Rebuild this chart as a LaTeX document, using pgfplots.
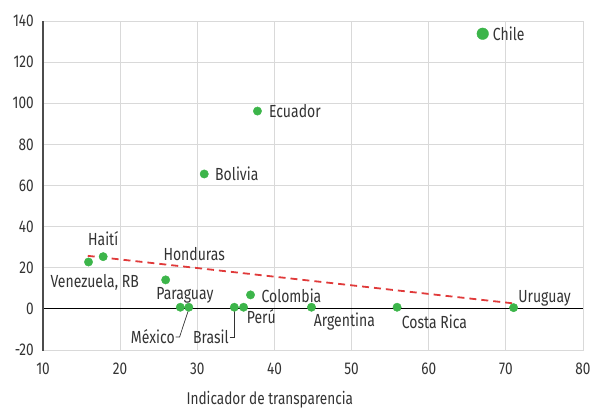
\documentclass[border=0pt]{standalone}
\usepackage{fontspec}
\setmainfont{Fira Sans}[FakeStretch=0.8]
\usepackage{pgfplots}
\pgfplotsset{compat=1.18}
\definecolor{dotgreen}{HTML}{3CB54A}
\definecolor{trendred}{HTML}{E03A3A}
\definecolor{gridgray}{HTML}{D9D9D9}
\definecolor{txt}{HTML}{333333}
\begin{document}
\begin{tikzpicture}
\begin{axis}[
  name=ax,
  scale only axis,
  width=540pt, height=329pt,
  xmin=10, xmax=80, ymin=-20, ymax=140,
  xtick={10,20,...,80}, ytick={-20,0,...,140},
  grid=major,
  major grid style={draw=gridgray, line width=0.8pt},
  axis line style={draw=gridgray, line width=0.8pt},
  major tick length=0pt,
  tick style={draw=none},
  /pgf/number format/assume math mode=true,
  ticklabel style={font=\fontsize{17}{20}\selectfont, text=txt, inner sep=0pt},
  yticklabel style={anchor=east, xshift=-9pt},
  xticklabel style={anchor=north, yshift=-13pt},
  xlabel={Indicador de transparencia},
  xlabel style={at={(axis description cs:0.42,-0.152)}, anchor=center, font=\fontsize{17}{20}\selectfont, text=txt, inner sep=0pt},
  clip=false,
  every node near coord/.style={},
]
% zero line
\addplot[black, line width=0.9pt, forget plot] coordinates {(10,0) (80,0)};
% trend line
\addplot[trendred, line width=1.8pt, dash pattern=on 7pt off 5pt] coordinates {(15.8,25.8) (70.9,2.7)};
% points
\addplot[only marks, mark=*, mark size=4.2pt, mark options={draw=dotgreen, fill=dotgreen}] coordinates {
  (37.8,96.2) (30.9,65.6) (17.8,25.4) (15.9,22.8) (25.9,14.1)
  (27.8,0.8) (28.9,0.8) (34.8,0.8) (36.0,0.8) (36.9,6.8)
  (44.8,0.8) (55.9,0.8) (71.0,0.6)
};
\addplot[only marks, mark=*, mark size=5.8pt, mark options={draw=dotgreen, fill=dotgreen}] coordinates {(67.0,133.8)};
% left axis line
\draw[draw=black!70, line width=1.5pt] (rel axis cs:0,-0.003) -- (rel axis cs:0,1);
% leader lines
\draw[txt, line width=0.7pt] (axis cs:27.2,-13.7) -- (axis cs:27.7,-13.7) -- (axis cs:28.8,-1.2);
\draw[txt, line width=0.7pt] (axis cs:34.2,-13.7) -- (axis cs:34.85,-13.7) -- (axis cs:34.85,-1.2);
% labels
\begin{scope}[every node/.style={font=\fontsize{17.5}{20}\selectfont, text=txt, inner sep=0pt}]
\node[anchor=west] at (axis cs:68.3,133.8) {Chile};
\node[anchor=west] at (axis cs:39.3,96.2) {Ecuador};
\node[anchor=west] at (axis cs:32.3,65.6) {Bolivia};
\node at (axis cs:17.8,34.0) {Haití};
\node at (axis cs:16.7,13.1) {Venezuela, RB};
\node at (axis cs:29.6,26.7) {Honduras};
\node at (axis cs:28.4,6.8) {Paraguay};
\node[anchor=east] at (axis cs:27.1,-13.7) {México};
\node[anchor=east] at (axis cs:34.1,-13.7) {Brasil};
\node[anchor=west] at (axis cs:36.4,-3.9) {Perú};
\node[anchor=west] at (axis cs:38.3,6.3) {Colombia};
\node[anchor=west] at (axis cs:45.1,-6.4) {Argentina};
\node[anchor=west] at (axis cs:56.5,-6.4) {Costa Rica};
\node[anchor=west] at (axis cs:71.6,5.3) {Uruguay};
\end{scope}
\end{axis}
\pgfresetboundingbox
\path[use as bounding box] ([xshift=-43pt,yshift=-59pt]ax.south west) rectangle ([xshift=15pt,yshift=21pt]ax.north east);
\end{tikzpicture}
\end{document}
